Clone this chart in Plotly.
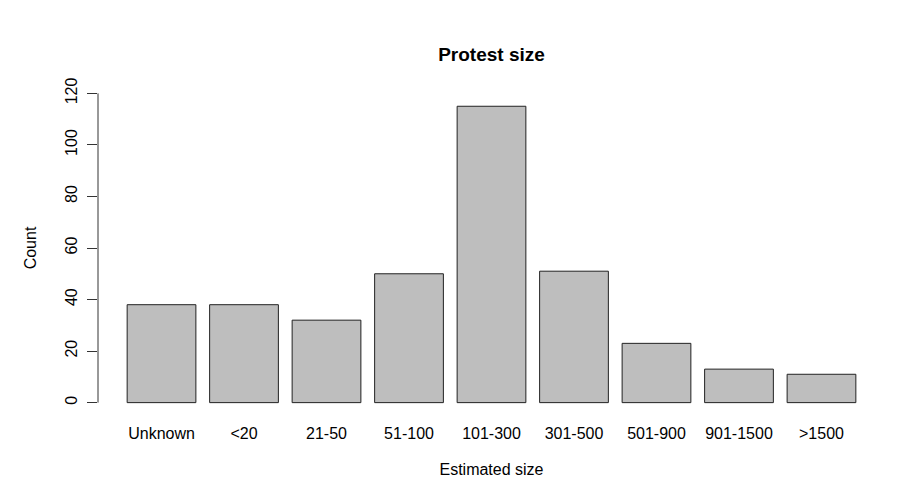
import plotly.graph_objects as go

# protest size counts
size_labels = ["Unknown", "<20", "21-50", "51-100", "101-300", "301-500", "501-900", "901-1500", ">1500"]
counts = [38, 38, 32, 50, 115, 51, 23, 13, 11]
y_ticks = [0, 20, 40, 60, 80, 100, 120]

FONT = "Liberation Sans, Arial, sans-serif"

fig = go.Figure()
fig.add_trace(
    go.Bar(
        x=size_labels,
        y=counts,
        marker=dict(color="#BEBEBE", line=dict(color="#222222", width=1)),
        hoverinfo="x+y",
    )
)

# R-style y axis: line only spans the labelled ticks
fig.add_shape(
    type="line", xref="paper", yref="y",
    x0=0, x1=0, y0=min(y_ticks), y1=max(y_ticks),
    line=dict(color="#333333", width=1),
)

# page body has an 8px margin, so the figure is 8px smaller each way
fig.update_layout(
    width=894,
    height=492,
    paper_bgcolor="white",
    plot_bgcolor="white",
    showlegend=False,
    bargap=0.2 / 1.2,
    margin=dict(l=90, r=17, t=73, b=85),
    font=dict(family=FONT, size=16, color="#000000"),
    title=dict(
        text="<b>Protest size</b>",
        font=dict(family=FONT, size=19, color="#000000"),
        x=0.5, xanchor="center", xref="paper",
        y=0.905, yanchor="middle",
    ),
)
fig.update_xaxes(
    range=[-0.77, 8.77],
    showline=False,
    showgrid=False,
    zeroline=False,
    ticks="",
    ticklabelstandoff=7,
    tickfont=dict(size=16),
    title=dict(text="Estimated size", font=dict(size=16), standoff=22),
    automargin=False,
)
fig.update_yaxes(
    range=[-4.8, 124.8],
    tickvals=y_ticks,
    showline=False,
    showgrid=False,
    zeroline=False,
    ticks="outside",
    ticklen=10,
    tickcolor="#333333",
    tickangle=-90,
    ticklabelstandoff=4,
    tickfont=dict(size=16),
    title=dict(text="Count", font=dict(size=16), standoff=21),
    automargin=False,
)

fig.write_html("out.html")
